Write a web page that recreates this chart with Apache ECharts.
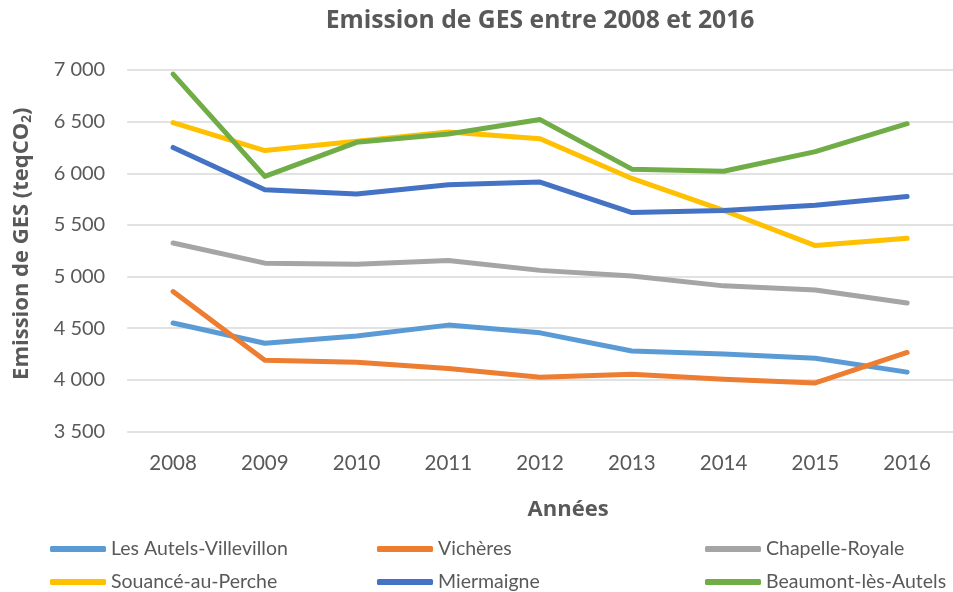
<!DOCTYPE html>
<html>
<head>
<meta charset="utf-8">
<script src="https://cdn.jsdelivr.net/npm/echarts@6/dist/echarts.min.js"></script>
<style>
  html, body { margin: 0; padding: 0; background: #fff; }
  #chart { width: 953px; height: 592px; }
</style>
</head>
<body>
<div id="chart"></div>
<script>
// Years on the horizontal axis
const years = ['2008', '2009', '2010', '2011', '2012', '2013', '2014', '2015', '2016'];

// Emissions per commune (teqCO2)
const autelsVillevillon = [4550, 4355, 4425, 4530, 4455, 4280, 4250, 4210, 4075];
const vicheres          = [4855, 4190, 4170, 4110, 4025, 4055, 4005, 3970, 4265];
const chapelleRoyale    = [5325, 5130, 5120, 5155, 5060, 5005, 4910, 4870, 4745];
const souanceAuPerche   = [6490, 6220, 6310, 6400, 6335, 5950, 5640, 5300, 5370];
const miermaigne        = [6250, 5840, 5800, 5890, 5915, 5620, 5640, 5690, 5775];
const beaumontLesAutels = [6960, 5970, 6300, 6380, 6520, 6040, 6020, 6210, 6480];

const seriesNames = ['Les Autels-Villevillon', 'Vichères', 'Chapelle-Royale',
                     'Souancé-au-Perche', 'Miermaigne', 'Beaumont-lès-Autels'];
const seriesValues = [autelsVillevillon, vicheres, chapelleRoyale,
                      souanceAuPerche, miermaigne, beaumontLesAutels];
const seriesColors = ['#5B9BD5', '#ED7D31', '#A5A5A5', '#FFC000', '#4472C4', '#70AD47'];

// Y axis range and step
const yMin = 3500, yMax = 7000, yStep = 500;

const FONT = 'Lato, "Open Sans", sans-serif';
const BOLD_FONT = '"Open Sans", Lato, sans-serif';
const GREY = '#595959';

const chart = echarts.init(document.getElementById('chart'), null, { renderer: 'canvas' });

// Legend laid out as a 3 x 2 grid
const legendCols = [50, 377, 705];
const legendRows = [539, 572];
const legends = seriesNames.map((name, i) => ({
  data: [name],
  left: legendCols[i % 3],
  top: legendRows[Math.floor(i / 3)],
  padding: 0,
  icon: 'roundRect',
  itemWidth: 56,
  itemHeight: 6,
  itemGap: 0,
  itemTextGap: 2,
  selectedMode: false,
  textStyle: { color: GREY, fontSize: 19.5, fontFamily: FONT }
}));

chart.setOption({
  animation: false,
  backgroundColor: '#fff',
  title: {
    text: 'Emission de GES entre 2008 et 2016',
    left: 540,
    top: 8,
    padding: 0,
    textAlign: 'center',
    textStyle: { color: GREY, fontSize: 24.7, fontWeight: 'bold', fontFamily: BOLD_FONT }
  },
  legend: legends,
  grid: { left: 127.2, right: -4.8, top: 70, bottom: 160.5, containLabel: false },
  xAxis: {
    type: 'category',
    data: years,
    boundaryGap: true,
    name: 'Années',
    nameLocation: 'middle',
    nameGap: 67,
    nameTextStyle: {
      color: GREY, fontSize: 22, fontWeight: 'bold', fontFamily: BOLD_FONT,
      padding: [0, 0, 0, 56]
    },
    axisLine: { show: false },
    axisTick: { show: false },
    axisLabel: { color: GREY, fontSize: 20.5, fontFamily: FONT, margin: 21 }
  },
  yAxis: {
    type: 'value',
    min: yMin,
    max: yMax,
    interval: yStep,
    name: 'Emission de GES (teqCO{sub|2})',
    nameLocation: 'middle',
    nameGap: 93,
    nameRotate: 90,
    nameTextStyle: {
      color: GREY, fontSize: 22, fontWeight: 'bold', fontFamily: BOLD_FONT,
      padding: [0, 0, 0, 14],
      rich: { sub: { fontSize: 13.5, fontWeight: 'bold', color: GREY, fontFamily: BOLD_FONT, padding: [10, 0, 0, 0] } }
    },
    axisLine: { show: false },
    axisTick: { show: false },
    splitLine: { lineStyle: { color: '#D9D9D9', width: 1.5 } },
    axisLabel: {
      color: GREY, fontSize: 20, fontFamily: FONT, margin: 22,
      formatter: v => String(v).replace(/\B(?=(\d{3})+(?!\d))/g, ' ')
    }
  },
  series: seriesNames.map((name, i) => ({
    name,
    type: 'line',
    data: seriesValues[i],
    color: seriesColors[i],
    symbol: 'none',
    lineStyle: { width: 5, color: seriesColors[i], cap: 'round', join: 'round' },
    z: 2 + i
  }))
});
</script>
</body>
</html>
